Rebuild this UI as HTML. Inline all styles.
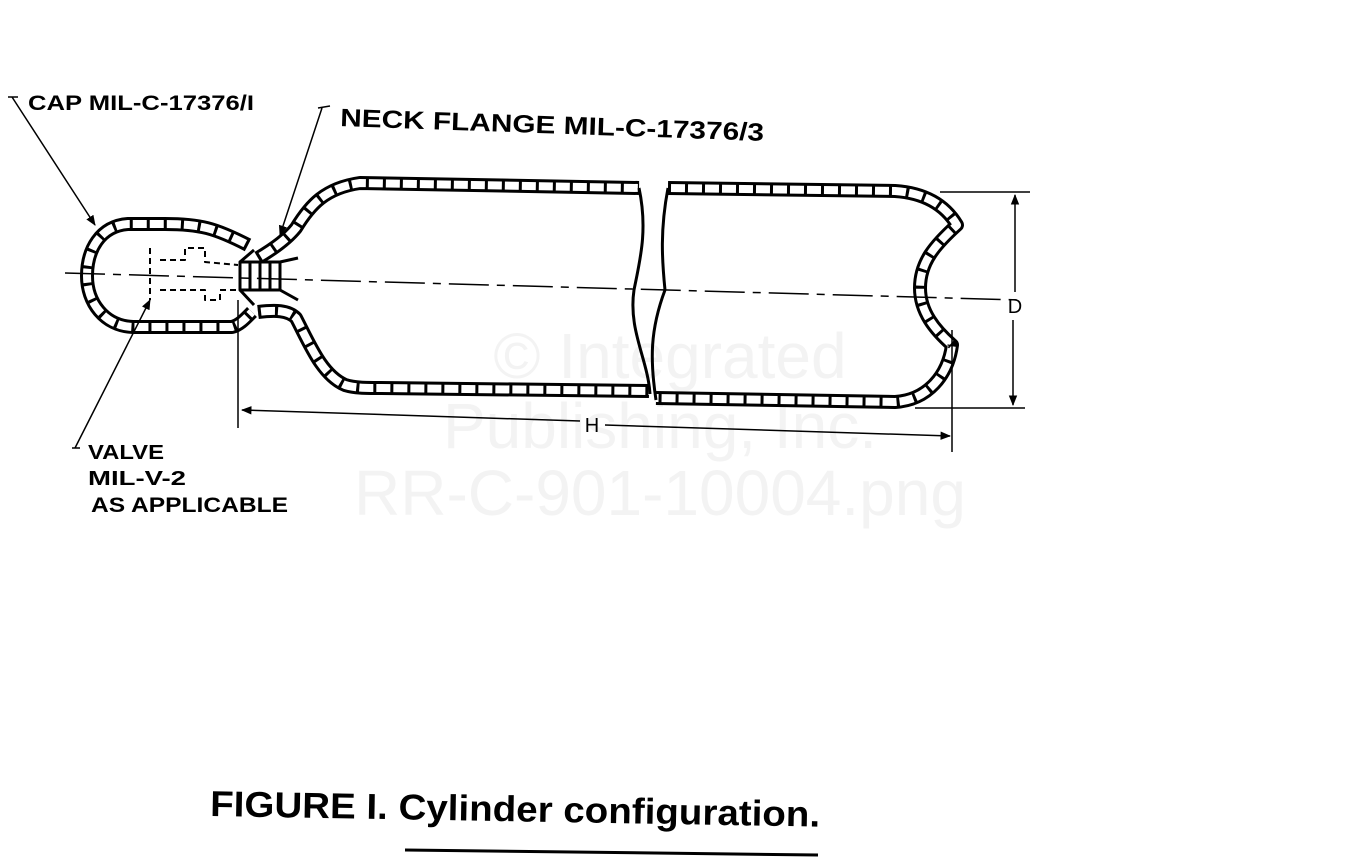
<!DOCTYPE html>
<html><head><meta charset="utf-8"><style>
html,body{margin:0;padding:0;background:#fff;}
svg{display:block;}
text{font-family:"Liberation Sans",sans-serif;fill:#000;}
.b{font-weight:bold;}
</style></head><body>
<svg width="1348" height="857" viewBox="0 0 1348 857" xmlns="http://www.w3.org/2000/svg">
<defs>
<marker id="a" viewBox="0 0 10 10" refX="9" refY="5" markerWidth="7" markerHeight="7" orient="auto-start-reverse"><path d="M0,1 L10,5 L0,9 z" fill="#000"/></marker>
</defs>
<g fill="#fff" font-size="64" text-anchor="middle">
<text x="670" y="378" style="fill:#f3f3f3">© Integrated</text>
<text x="660" y="448" style="fill:#f3f3f3">Publishing, Inc.</text>
<text x="660" y="515" style="fill:#f3f3f3">RR-C-901-10004.png</text>
</g>
<g fill="none" stroke-linejoin="round" stroke-linecap="butt">
<g stroke="#000" stroke-width="14">
<path id="w1" d="M248,245 C215,228 200,224 165,224 L128,224 C100,226 87,250 87,276 C87,302 104,326 133,327 L232,327 C240,325 246,318 252,312"/>
<path id="w2" d="M258,258 C275,248 288,238 296,228 C310,205 325,188 360,183 L639,188"/>
<path id="w3" d="M258,312 C275,310 288,310 296,318 C310,345 322,375 345,385 C355,388 365,388 380,388 L649,391"/>
<path id="w4" d="M668,188 L895,191 C925,193 945,205 957,225 C935,245 920,262 920,288 C920,312 935,330 952,345 C948,375 928,400 895,402 L656,398"/>
</g>
<g stroke="#fff" stroke-width="8">
<use href="#w1"/><use href="#w2"/><use href="#w3"/><use href="#w4"/>
</g>
<g stroke="#000" stroke-width="9" stroke-dasharray="3,14">
<use href="#w1"/><use href="#w2"/><use href="#w3"/><use href="#w4"/>
</g>
</g>
<g fill="none" stroke="#000" stroke-width="3" stroke-linejoin="round">
<rect x="240" y="262" width="40" height="28" fill="#fff"/>
<line x1="250" y1="262" x2="250" y2="290"/><line x1="260" y1="262" x2="260" y2="290"/><line x1="270" y1="262" x2="270" y2="290"/>
<path d="M280,262 L298,258 M280,290 L298,300"/>
<path d="M240,262 L254,250 M240,290 L254,305"/>
<path d="M639,188 C648,230 640,260 634,290 C628,330 648,360 650,394"/>
<path d="M668,188 C660,230 662,260 665,290 C650,330 650,360 656,400"/>
<path stroke-width="2" stroke-dasharray="6,4" d="M150,248 L150,300 M160,260 L185,260 L185,248 L205,248 L205,262 L238,265 M160,290 L205,290 L205,300 L220,300 L220,290 L238,290"/>
</g>
<path d="M65,273 L1020,300" stroke="#000" stroke-width="1.5" stroke-dasharray="40,8,8,8" fill="none"/>
<g stroke="#000" stroke-width="1.5" fill="none">
<line x1="940" y1="192" x2="1030" y2="192"/>
<line x1="915" y1="408" x2="1025" y2="408"/>
<line x1="1015" y1="292" x2="1015" y2="195" marker-end="url(#a)"/>
<line x1="1013" y1="320" x2="1013" y2="405" marker-end="url(#a)"/>
<line x1="238" y1="300" x2="238" y2="428"/>
<line x1="952" y1="330" x2="952" y2="452"/>
<line x1="580" y1="421" x2="242" y2="410" marker-end="url(#a)"/>
<line x1="605" y1="425" x2="950" y2="436" marker-end="url(#a)"/>
<path d="M8,97 L18,97 M12,97 L95,225" marker-end="url(#a)"/>
<path d="M318,108 L330,106 M322,108 L280,235" marker-end="url(#a)"/>
<path d="M80,448 L72,448 M75,448 L150,300" marker-end="url(#a)"/>
</g>
<text x="1015" y="313" font-size="20" text-anchor="middle">D</text>
<text x="592" y="432" font-size="20" text-anchor="middle">H</text>
<text class="b" x="28" y="110" font-size="21" textLength="226" lengthAdjust="spacingAndGlyphs">CAP MIL-C-17376/I</text>
<text class="b" x="340" y="126" font-size="25" transform="rotate(2 340 126)" textLength="424" lengthAdjust="spacingAndGlyphs">NECK FLANGE MIL-C-17376/3</text>
<text class="b" x="88" y="459" font-size="20" textLength="76" lengthAdjust="spacingAndGlyphs">VALVE</text>
<text class="b" x="88" y="485" font-size="20" textLength="98" lengthAdjust="spacingAndGlyphs">MIL-V-2</text>
<text class="b" x="91" y="512" font-size="21" textLength="197" lengthAdjust="spacingAndGlyphs">AS APPLICABLE</text>
<text class="b" x="210" y="816" font-size="36" transform="rotate(1 210 816)" textLength="610" lengthAdjust="spacingAndGlyphs">FIGURE I. Cylinder configuration.</text>
<line x1="405" y1="850" x2="818" y2="855" stroke="#000" stroke-width="3"/>
</svg>
</body></html>
